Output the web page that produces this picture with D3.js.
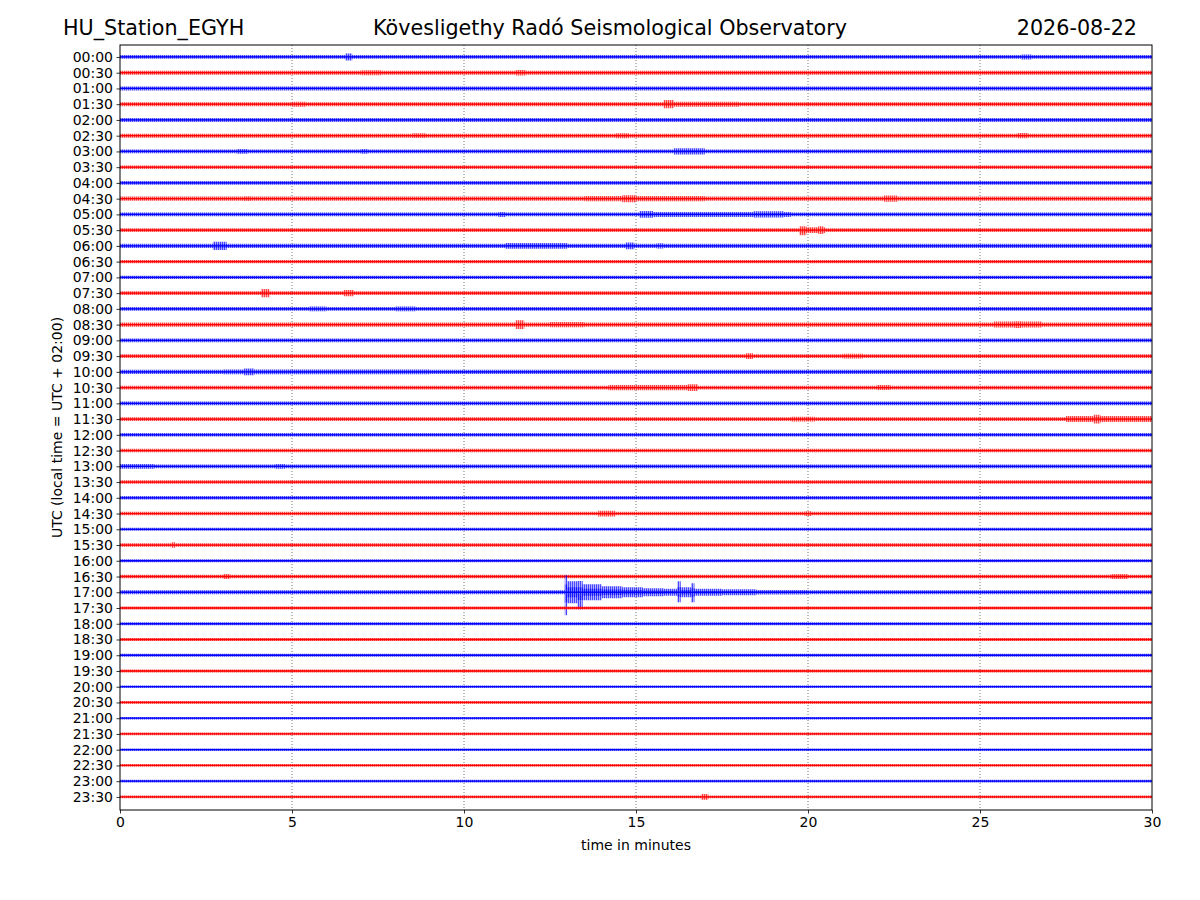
<!DOCTYPE html>
<html>
<head>
<meta charset="utf-8">
<script src="https://cdn.jsdelivr.net/npm/d3@7"></script>
<style>
  body { margin: 0; background: #fff; }
  svg { font-family: "DejaVu Sans", sans-serif; }
</style>
</head>
<body>
<div id="chart"></div>
<script>
// row labels (UTC start time of each 30 minute line)
var rowLabels = ["00:00","00:30","01:00","01:30","02:00","02:30","03:00","03:30",
    "04:00","04:30","05:00","05:30","06:00","06:30","07:00","07:30",
    "08:00","08:30","09:00","09:30","10:00","10:30","11:00","11:30",
    "12:00","12:30","13:00","13:30","14:00","14:30","15:00","15:30",
    "16:00","16:30","17:00","17:30","18:00","18:30","19:00","19:30",
    "20:00","20:30","21:00","21:30","22:00","22:30","23:00","23:30"];
var xTicks = [0, 5, 10, 15, 20, 25, 30];
var gridMinutes = [5, 10, 15, 20, 25];

// background noise half-amplitude of every line (counts)
var noiseLevel = [12, 13, 13, 13, 13, 13, 12, 11, 12, 13, 12, 12, 13, 11, 11, 12,
    12, 13, 12, 12, 13, 12, 12, 12, 11, 11, 12, 11, 11, 11, 10, 11,
    10, 11, 12, 10, 9, 9, 9, 9, 8, 9, 8, 9, 8, 9, 9, 9];

// local bursts: row, start min, end min, up, down (counts)
var bursts = [
    [0, 6.55, 6.75, 22, 22], [0, 26.2, 26.5, 16, 16],
    [1, 7.0, 7.6, 16, 16], [1, 11.5, 11.8, 17, 17],
    [3, 15.8, 16.1, 26, 26], [3, 16.1, 18.0, 16, 16], [3, 5.0, 5.4, 16, 16],
    [5, 14.4, 14.8, 16, 16], [5, 26.1, 26.4, 17, 17], [5, 8.5, 8.9, 15, 15],
    [6, 16.1, 17.0, 20, 20], [6, 3.4, 3.7, 15, 15], [6, 7.0, 7.2, 15, 15],
    [9, 13.5, 17.0, 17, 17], [9, 14.6, 15.0, 22, 22], [9, 22.2, 22.6, 20, 20], [9, 3.6, 3.8, 15, 15],
    [10, 15.1, 15.5, 22, 22], [10, 15.5, 19.5, 16, 16], [10, 18.4, 19.3, 20, 20], [10, 11.0, 11.2, 16, 16],
    [11, 19.75, 19.95, 24, 32], [11, 19.95, 20.5, 18, 18], [11, 20.3, 20.45, 24, 24],
    [12, 2.7, 3.1, 26, 26], [12, 11.2, 13.0, 18, 18], [12, 14.7, 14.95, 22, 22], [12, 15.6, 15.8, 16, 16],
    [15, 4.1, 4.35, 26, 26], [15, 6.5, 6.8, 20, 20],
    [16, 5.5, 6.0, 15, 15], [16, 8.0, 8.6, 15, 15],
    [17, 11.5, 11.75, 28, 28], [17, 12.5, 13.5, 16, 16], [17, 25.4, 26.8, 19, 19], [17, 26.0, 26.2, 22, 22],
    [19, 18.2, 18.4, 18, 18], [19, 21.0, 21.6, 15, 15],
    [20, 3.6, 3.9, 22, 22], [20, 3.0, 9.0, 15, 15],
    [21, 14.2, 16.8, 17, 17], [21, 16.5, 16.8, 21, 21], [21, 22.0, 22.4, 16, 16],
    [23, 27.5, 30.0, 19, 19], [23, 28.3, 28.5, 28, 28], [23, 19.5, 20.2, 15, 15],
    [26, 0.0, 1.0, 15, 15], [26, 4.5, 4.8, 15, 15],
    [29, 13.9, 14.4, 18, 18], [29, 19.9, 20.1, 15, 15],
    [31, 1.5, 1.6, 18, 18],
    [33, 3.0, 3.2, 16, 16], [33, 28.8, 29.3, 16, 16],
    [34, 12.93, 13.0, 108, 146], [34, 13.0, 13.3, 70, 70], [34, 13.3, 13.45, 72, 108],
    [34, 13.45, 14.0, 51, 51], [34, 14.0, 14.6, 38, 38], [34, 14.6, 15.2, 32, 32],
    [34, 15.2, 15.8, 25, 25], [34, 15.8, 16.2, 22, 22], [34, 16.2, 16.3, 70, 64],
    [34, 16.3, 16.6, 32, 32], [34, 16.6, 16.7, 57, 64], [34, 16.7, 17.5, 22, 22],
    [34, 17.5, 18.5, 19, 19], [34, 18.5, 20.0, 15, 15],
    [47, 16.9, 17.1, 18, 18]
];

var width = 1200, height = 900;
var margin = {top: 45, right: 48, bottom: 90, left: 120};
var plotW = width - margin.left - margin.right;
var plotH = height - margin.top - margin.bottom;

var svg = d3.select("#chart").append("svg")
    .attr("width", width)
    .attr("height", height);

// striped fills so the bands read like dense wiggles instead of solid blocks
var defs = svg.append("defs");
["#0000ff", "#ff0000"].forEach(function(c, i){
    var p = defs.append("pattern")
        .attr("id", "wig" + i)
        .attr("patternUnits", "userSpaceOnUse")
        .attr("width", 2).attr("height", 4);
    p.append("rect").attr("width", 2).attr("height", 4).attr("fill", c).attr("opacity", 0.3);
    p.append("rect").attr("width", 1).attr("height", 4).attr("fill", c).attr("opacity", 0.6);
});

var g = svg.append("g")
    .attr("transform", "translate(" + margin.left + "," + margin.top + ")");

var x = d3.scaleLinear().domain([0, 30]).range([0, plotW]);
// row index -> pixel, matplotlib style padding above first and below last line
var y = d3.scaleLinear().domain([-0.76, rowLabels.length - 1 + 0.83]).range([0, plotH]);
var rowStep = y(1) - y(0);
var amp = d3.scaleLinear().domain([0, 100]).range([0, rowStep]);

// gridlines
g.selectAll("line.grid").data(gridMinutes).enter().append("line")
    .attr("class", "grid")
    .attr("x1", function(d){ return x(d); })
    .attr("x2", function(d){ return x(d); })
    .attr("y1", 0).attr("y2", plotH)
    .attr("stroke", "#555")
    .attr("stroke-width", 0.8)
    .attr("stroke-dasharray", "1,2");

// build the step envelope of each line from its noise level and bursts
function envelope(row){
    var mine = bursts.filter(function(b){ return b[0] == row; });
    var edges = [0, 30];
    mine.forEach(function(b){ edges.push(b[1], b[2]); });
    edges = Array.from(new Set(edges)).sort(function(a, b){ return a - b; });
    var pts = [];
    for (var i = 0; i < edges.length; i++){
        var t = edges[i], up = noiseLevel[row], dn = noiseLevel[row];
        mine.forEach(function(b){
            if (t >= b[1] && t < b[2]){
                up = Math.max(up, b[3]);
                dn = Math.max(dn, b[4]);
            }
        });
        pts.push({t: t, up: up, dn: dn});
    }
    return pts;
}

var traces = rowLabels.map(function(label, i){
    return {row: i, idx: i % 2, color: i % 2 == 0 ? "#0000ff" : "#ff0000", pts: envelope(i)};
});

function bandArea(row, frac){
    return d3.area()
        .curve(d3.curveStepAfter)
        .x(function(d){ return x(d.t); })
        .y0(function(d){ return y(row) + amp(d.dn * frac); })
        .y1(function(d){ return y(row) - amp(d.up * frac); });
}

var tg = g.selectAll("g.trace").data(traces).enter().append("g").attr("class", "trace");

tg.append("path")
    .attr("d", function(d){ return bandArea(d.row, 1)(d.pts); })
    .attr("fill", function(d){ return "url(#wig" + d.idx + ")"; });
tg.append("path")
    .attr("d", function(d){ return bandArea(d.row, 0.45)(d.pts); })
    .attr("fill", function(d){ return "url(#wig" + d.idx + ")"; });
tg.append("line")
    .attr("x1", x(0)).attr("x2", x(30))
    .attr("y1", function(d){ return y(d.row); })
    .attr("y2", function(d){ return y(d.row); })
    .attr("stroke", function(d){ return d.color; })
    .attr("stroke-width", 1.3);

// axes
var yAxis = d3.axisLeft(y)
    .tickValues(d3.range(rowLabels.length))
    .tickFormat(function(d){ return rowLabels[d]; })
    .tickSize(3.5).tickPadding(3.5);
var xAxis = d3.axisBottom(x)
    .tickValues(xTicks)
    .tickFormat(d3.format("d"))
    .tickSize(3.5).tickPadding(3.5);

var ya = g.append("g").call(yAxis);
var xa = g.append("g").attr("transform", "translate(0," + plotH + ")").call(xAxis);
[ya, xa].forEach(function(a){
    a.select(".domain").remove();
    a.selectAll("text").attr("font-size", 14).attr("fill", "#000")
        .attr("font-family", "DejaVu Sans, sans-serif");
    a.selectAll("line").attr("stroke", "#000").attr("stroke-width", 0.8);
});

// frame
g.append("rect")
    .attr("width", plotW).attr("height", plotH)
    .attr("fill", "none").attr("stroke", "#000").attr("stroke-width", 1);

// labels
svg.append("text").text("time in minutes")
    .attr("x", margin.left + plotW / 2).attr("y", 850)
    .attr("text-anchor", "middle").attr("font-size", 14);
svg.append("text").text("UTC (local time = UTC + 02:00)")
    .attr("transform", "translate(62," + (margin.top + plotH / 2) + ") rotate(-90)")
    .attr("text-anchor", "middle").attr("font-size", 14);

// titles
svg.append("text").text("HU_Station_EGYH")
    .attr("x", 63).attr("y", 35).attr("font-size", 20.7);
svg.append("text").text("Kövesligethy Radó Seismological Observatory")
    .attr("x", 610).attr("y", 35).attr("text-anchor", "middle").attr("font-size", 20.7);
svg.append("text").text("2026-08-22")
    .attr("x", 1137).attr("y", 35).attr("text-anchor", "end").attr("font-size", 20.7);
</script>
</body>
</html>
